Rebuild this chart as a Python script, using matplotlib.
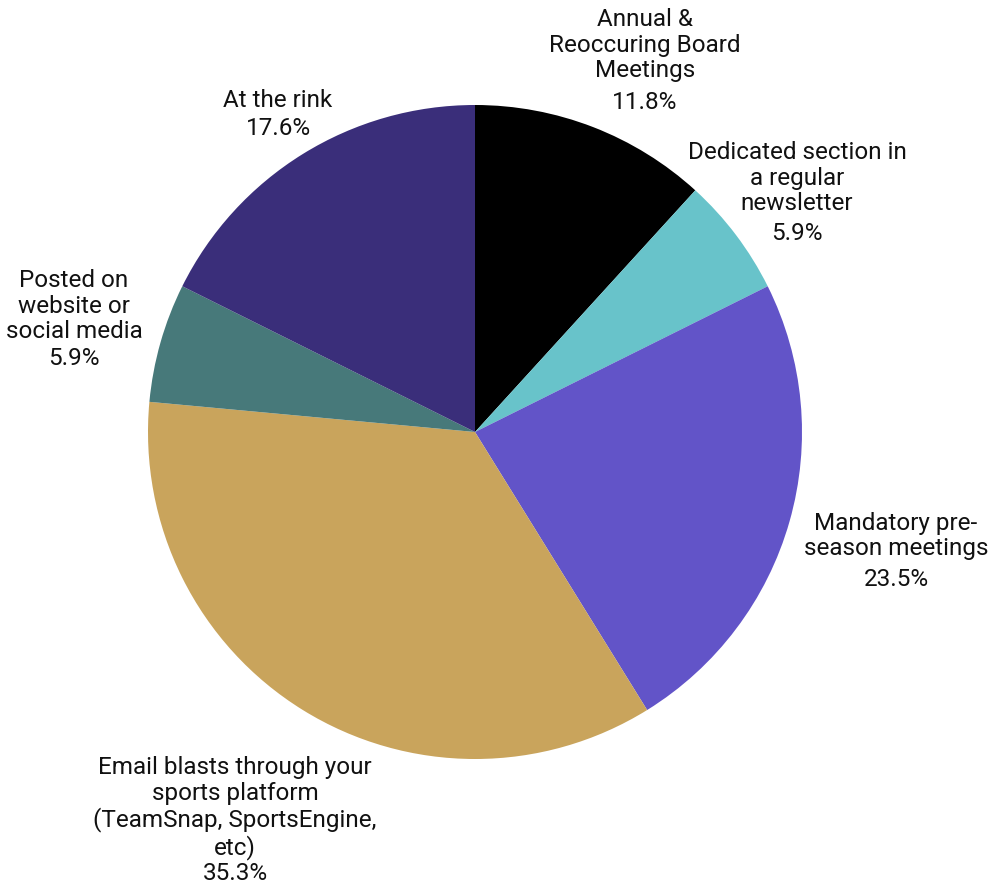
import matplotlib
matplotlib.use("Agg")
import matplotlib.pyplot as plt

# Survey responses: where board information is shared
categories = [
    "Annual &\nReoccuring Board\nMeetings",
    "Dedicated section in\na regular\nnewsletter",
    "Mandatory pre-\nseason meetings",
    "Email blasts through your\nsports platform\n(TeamSnap, SportsEngine,\netc)",
    "Posted on\nwebsite or\nsocial media",
    "At the rink",
]
counts = [2, 1, 4, 6, 1, 3]
colors = ["#000000", "#68C3CA", "#6254C8", "#C9A45C", "#47797A", "#3A2E7A"]

# Label placement in pixels: (x, name-block centre y, percentage y)
label_pos = [
    (645, 45, 102),
    (797, 178, 233),
    (896, 536, 580),
    (235, 808, 873),
    (74, 306, 358),
    (278, 100, 128),
]

W, H, DPI = 993, 884, 100
CX, CY, R = 475, 432, 327

fig = plt.figure(figsize=(W / DPI, H / DPI), dpi=DPI)
ax = fig.add_axes([0, 0, 1, 1])

ax.pie(counts, colors=colors, startangle=90, counterclock=False,
       radius=1.0, center=(0, 0), frame=True,
       wedgeprops=dict(linewidth=0))
ax.set_xlim(-CX / R, (W - CX) / R)
ax.set_ylim(-(H - CY) / R, CY / R)
ax.axis("off")


def to_data(px, py):
    return (px - CX) / R, (CY - py) / R


total = sum(counts)
font = dict(family=["Roboto", "DejaVu Sans"], fontsize=17.5, color="#111111")
for name, n, (lx, ny, py) in zip(categories, counts, label_pos):
    x, y = to_data(lx, ny)
    ax.text(x, y, name, ha="center", va="center", linespacing=1.13, **font)
    x, y = to_data(lx, py)
    ax.text(x, y, f"{100 * n / total:.1f}%", ha="center", va="center", **font)

fig.savefig("out.png", dpi=DPI)
